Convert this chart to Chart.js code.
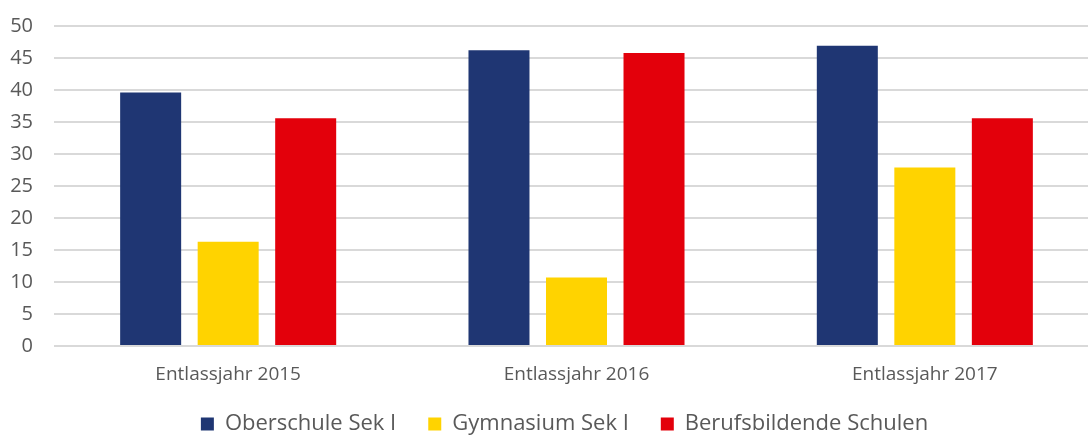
<!DOCTYPE html>
<html>
<head>
<meta charset="utf-8">
<script src="https://cdn.jsdelivr.net/npm/chart.js@4/dist/chart.umd.min.js"></script>
<style>
  html, body { margin: 0; padding: 0; background: #fff; overflow: hidden; }
  #wrap { position: relative; width: 1099px; height: 435px; }
</style>
</head>
<body>
<div id="wrap"><canvas id="c"></canvas></div>
<script>
const categories = ['Entlassjahr 2015', 'Entlassjahr 2016', 'Entlassjahr 2017'];
const seriesNames = ['Oberschule Sek I', 'Gymnasium Sek I', 'Berufsbildende Schulen'];
const oberschule = [39.6, 46.2, 46.9];
const gymnasium = [16.3, 10.7, 27.9];
const berufsbildende = [35.6, 45.8, 35.6];
const yTicks = [0, 5, 10, 15, 20, 25, 30, 35, 40, 45, 50];

const colors = ['#1f3673', '#ffd300', '#e3000b'];
const FONT = '"Open Sans", "Noto Sans", sans-serif';
const TEXT = '#595959';

// keep the legend's reserved height small, but draw its row a bit higher and further right
const legendShift = {
  id: 'legendShift',
  afterLayout(chart) {
    const lg = chart.legend;
    if (!lg) return;
    const dx = 10;
    lg.left += dx; lg.right += dx;
    lg.top = lg.bottom - 54;
  }
};

new Chart(document.getElementById('c'), {
  type: 'bar',
  data: {
    labels: categories,
    datasets: [
      { label: seriesNames[0], data: oberschule, backgroundColor: colors[0] },
      { label: seriesNames[1], data: gymnasium, backgroundColor: colors[1] },
      { label: seriesNames[2], data: berufsbildende, backgroundColor: colors[2] }
    ]
  },
  options: {
    responsive: true,
    maintainAspectRatio: false,
    animation: false,
    layout: { padding: { left: 10, right: 0, top: 26, bottom: 0 } },
    datasets: { bar: { categoryPercentage: 0.6676, barPercentage: 0.787, borderWidth: 0 } },
    plugins: {
      tooltip: { enabled: false },
      legend: {
        position: 'bottom',
        maxHeight: 49,
        labels: {
          boxWidth: 13,
          boxHeight: 13,
          padding: 32,
          color: TEXT,
          font: { family: FONT, size: 22 }
        }
      }
    },
    scales: {
      x: {
        grid: { display: false, drawTicks: false },
        border: { display: false },
        afterFit(s) { s.height = 40; },
        ticks: { color: TEXT, font: { family: FONT, size: 19 }, padding: 17 }
      },
      y: {
        min: 0,
        max: 50,
        afterBuildTicks(axis) { axis.ticks = yTicks.map(v => ({ value: v })); },
        afterFit(s) { s.width = 44; s.paddingTop = 0; s.paddingBottom = 0; },
        grid: { color: '#d9d9d9', lineWidth: 2, drawTicks: false },
        border: { display: false },
        ticks: { color: TEXT, font: { family: FONT, size: 20 }, padding: 21 }
      }
    }
  },
  plugins: [legendShift]
});
</script>
</body>
</html>
